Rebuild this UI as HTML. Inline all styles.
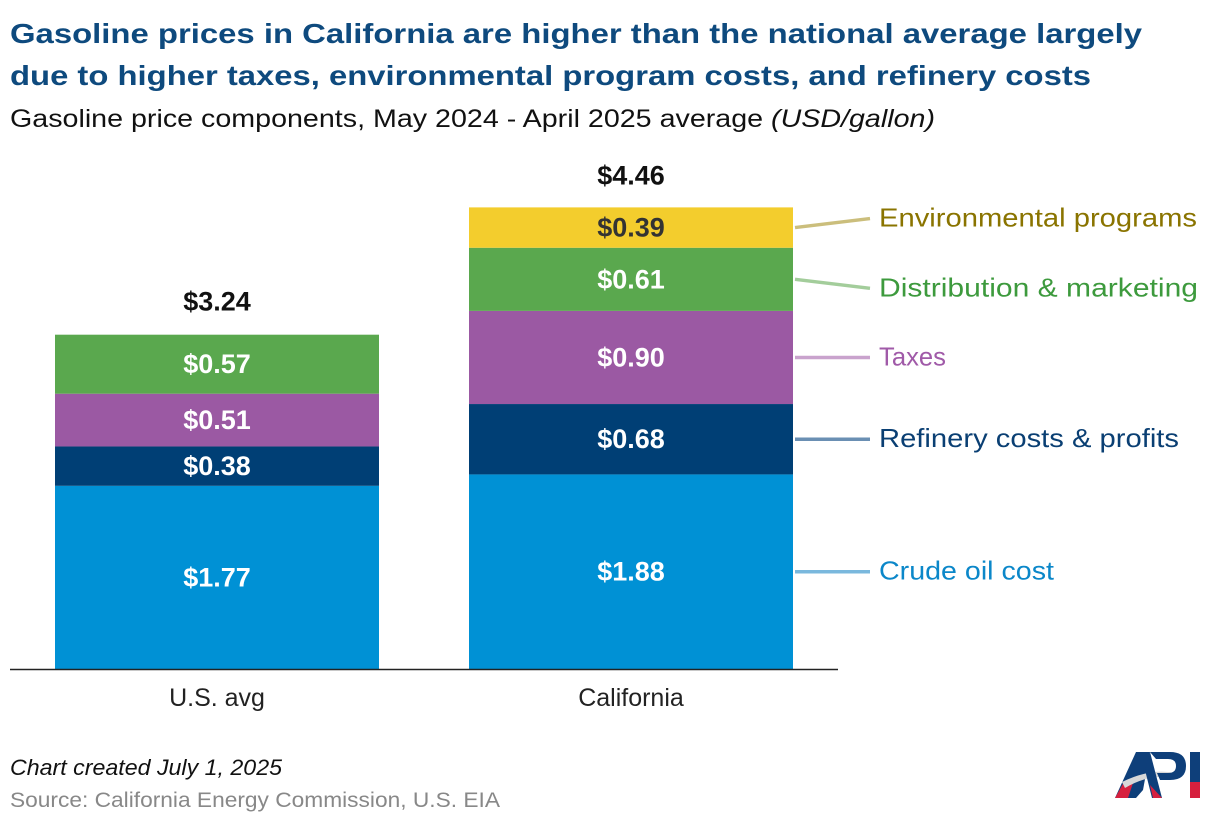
<!DOCTYPE html>
<html><head><meta charset="utf-8"><style>
body{margin:0;background:#fff}
svg{display:block;font-family:"Liberation Sans",Arial,sans-serif}
</style></head><body>
<svg width="1220" height="826" viewBox="0 0 1220 826">
<text x="10" y="43" font-size="28" font-weight="bold" fill="#0e4a7e" textLength="1132" lengthAdjust="spacingAndGlyphs">Gasoline prices in California are higher than the national average largely</text>
<text x="10" y="85" font-size="28" font-weight="bold" fill="#0e4a7e" textLength="1081" lengthAdjust="spacingAndGlyphs">due to higher taxes, environmental program costs, and refinery costs</text>
<text x="10" y="127" font-size="25" fill="#111" textLength="925" lengthAdjust="spacingAndGlyphs">Gasoline price components, May 2024 - April 2025 average <tspan font-style="italic">(USD/gallon)</tspan></text>
<g id="bars"></g>
<line x1="10" y1="669.5" x2="838" y2="669.5" stroke="#222" stroke-width="1.5"/>
<g id="legend"></g>
<text x="10" y="775" font-size="22" font-style="italic" fill="#111" textLength="272" lengthAdjust="spacingAndGlyphs">Chart created July 1, 2025</text>
<text x="10" y="807" font-size="21" fill="#888" textLength="490" lengthAdjust="spacingAndGlyphs">Source: California Energy Commission, U.S. EIA</text>
<g>
<polygon points="1115,798 1136,752 1150,752 1143,790 1136,798" fill="#0e3f7a"/>
<polygon points="1115,798 1124,782 1134,780 1128,798" fill="#d6203e"/>
<path d="M1122,782 Q1150,768 1175,773 L1175,778 Q1150,773 1125,788 Z" fill="#d8d8d8"/>
<path d="M1150,752 L1170,752 Q1186,752 1186,766 Q1186,780 1170,780 L1160,780 L1157,773 L1168,773 Q1176,773 1176,766 Q1176,759 1168,759 L1156,759 Z" fill="#0e3f7a"/>
<polygon points="1150,752 1162,798 1152,798 1145,770" fill="#0e3f7a"/>
<polygon points="1150,785 1162,798 1153,798" fill="#d6203e"/>
<rect x="1190" y="752" width="10" height="30" fill="#0e3f7a"/>
<rect x="1190" y="782" width="10" height="16" fill="#d6203e"/>
</g>
</svg>
<script>
const categories=["U.S. avg","California"];
const components=["Crude oil cost","Refinery costs & profits","Taxes","Distribution & marketing","Environmental programs"];
const usValues=[1.77,0.38,0.51,0.57,0];
const caValues=[1.88,0.68,0.90,0.61,0.39];
const totals=[3.24,4.46];
const colors=["#0091d5","#003f75","#9b59a3","#5aa84e","#f3cd2d"];
const legendColors=["#0b87c9","#0a3f73","#a05aa8","#3d9a3d","#8a7400"];
const lineColors=["#7ab8dd","#6a8fb3","#c9a3cd","#a3cd9b","#cbbe7c"];
const legendWidths=[175,300,67,319,318];
const NS="http://www.w3.org/2000/svg";
const base=669, scale=103.5, barW=324, barX=[55,469];
function y(v){return base-v*scale;}
function mk(tag,attrs,parent,text){const e=document.createElementNS(NS,tag);for(const k in attrs)e.setAttribute(k,attrs[k]);if(text!==undefined)e.textContent=text;parent.appendChild(e);return e;}
const bars=document.getElementById('bars');
const series=[usValues,caValues];
const mids=[];
series.forEach((vals,ci)=>{
  let cum=0;mids[ci]=[];
  vals.forEach((v,i)=>{
    if(v<=0){mids[ci].push(null);return;}
    const top=y(cum+v),bot=y(cum);
    const r=mk('rect',{x:barX[ci],y:top,width:barW,height:bot-top,fill:colors[i]},bars);
    
    
    const m=(top+bot)/2;mids[ci].push(m);
    const t=mk('text',{x:barX[ci]+barW/2,y:m+9,'text-anchor':'middle','font-size':27,'font-weight':'bold',fill:i==4?'#333':'#fff'},bars,'$'+v.toFixed(2));
    
    
    cum+=v;
  });
  const tt=mk('text',{x:barX[ci]+barW/2,y:y(totals[ci])-23,'text-anchor':'middle','font-size':27,'font-weight':'bold',fill:'#111'},bars,'$'+totals[ci].toFixed(2));
  
  
  const cl=mk('text',{x:barX[ci]+barW/2,y:706,'text-anchor':'middle','font-size':25,fill:'#222'},bars,categories[ci]);
  
  
});
const lg=document.getElementById('legend');
const offsets=[0,0,0,9,-9];
components.forEach((c,i)=>{
  const m=mids[1][i]; if(m===null)return;
  const ty=m+offsets[i];
  const l=mk('line',{x1:795,y1:m,x2:870,y2:ty,stroke:lineColors[i],'stroke-width':3.5},lg);
  
  
  const t=mk('text',{x:879,y:ty+8,'font-size':26,fill:legendColors[i],textLength:legendWidths[i],lengthAdjust:'spacingAndGlyphs'},lg,c);
  
  
});
</script>
</body></html>
